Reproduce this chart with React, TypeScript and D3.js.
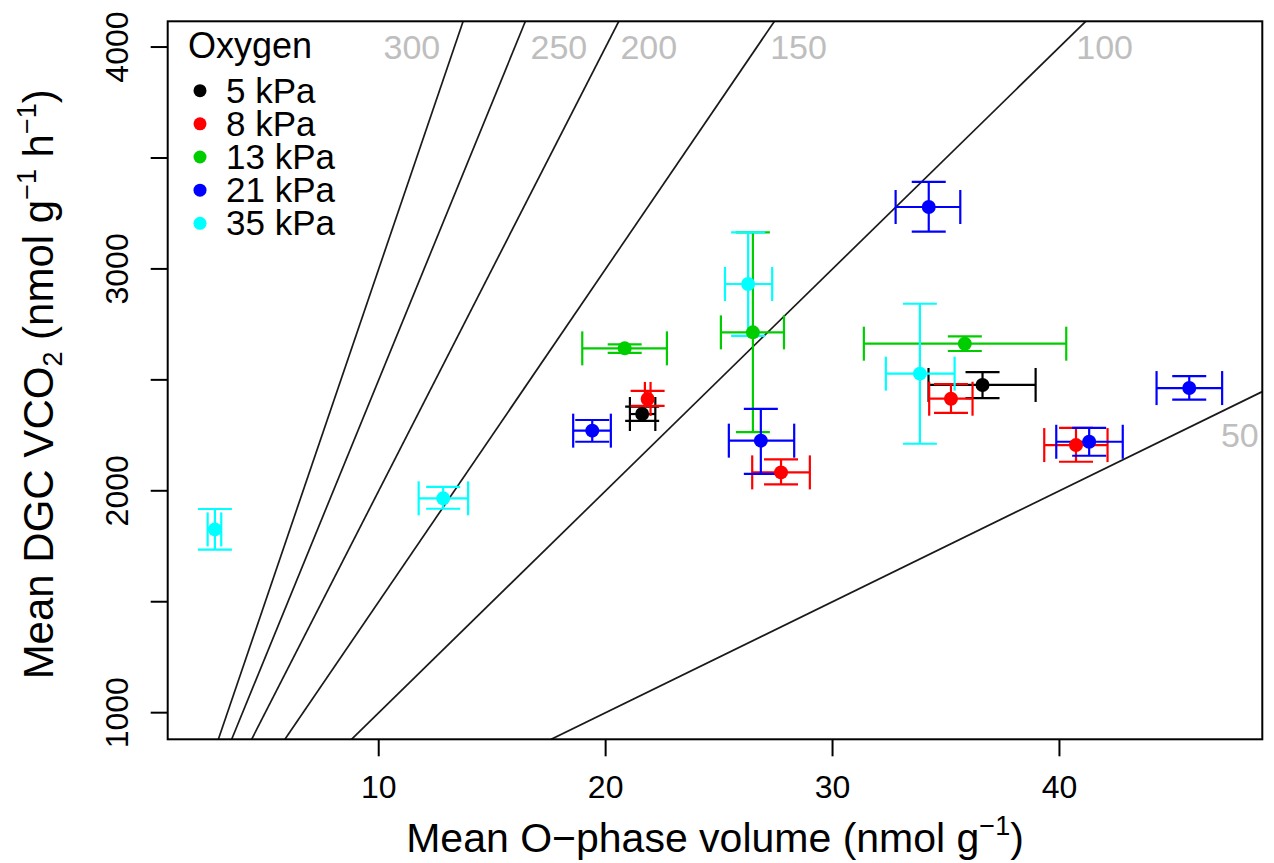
import React from "react";
import * as d3 from "d3";

// ---- data ----
type Pt = { x: number; y: number; xlo: number; xhi: number; ylo: number; yhi: number };

const oxygenLevels = ["5 kPa", "8 kPa", "13 kPa", "21 kPa", "35 kPa"];
const oxygenColors = ["#000000", "#FF0000", "#00CD00", "#0000FF", "#00FFFF"];

const kPa5: Pt[] = [
  { x: 21.61, y: 2346, xlo: 21.07, xhi: 22.19, ylo: 2315, yhi: 2379 },
  { x: 36.61, y: 2477, xlo: 34.23, xhi: 38.95, ylo: 2418, yhi: 2535 },
];
const kPa8: Pt[] = [
  { x: 21.85, y: 2414, xlo: 21.73, xhi: 21.98, ylo: 2383, yhi: 2450 },
  { x: 27.73, y: 2083, xlo: 26.46, xhi: 29.0, ylo: 2029, yhi: 2142 },
  { x: 35.22, y: 2415, xlo: 34.26, xhi: 36.17, ylo: 2351, yhi: 2481 },
  { x: 40.73, y: 2206, xlo: 39.33, xhi: 42.12, ylo: 2131, yhi: 2284 },
];
const kPa13: Pt[] = [
  { x: 20.84, y: 2642, xlo: 18.97, xhi: 22.7, ylo: 2622, yhi: 2660 },
  { x: 26.49, y: 2714, xlo: 25.08, xhi: 27.86, ylo: 2264, yhi: 3165 },
  { x: 35.83, y: 2663, xlo: 31.38, xhi: 40.3, ylo: 2630, yhi: 2696 },
];
const kPa21: Pt[] = [
  { x: 19.41, y: 2271, xlo: 18.57, xhi: 20.23, ylo: 2221, yhi: 2319 },
  { x: 26.84, y: 2226, xlo: 25.43, xhi: 28.31, ylo: 2076, yhi: 2369 },
  { x: 34.24, y: 3279, xlo: 32.78, xhi: 35.63, ylo: 3168, yhi: 3392 },
  { x: 41.31, y: 2221, xlo: 39.86, xhi: 42.79, ylo: 2158, yhi: 2284 },
  { x: 45.72, y: 2463, xlo: 44.28, xhi: 47.17, ylo: 2411, yhi: 2517 },
];
const kPa35: Pt[] = [
  { x: 2.78, y: 1826, xlo: 2.46, xhi: 3.06, ylo: 1735, yhi: 1918 },
  { x: 12.84, y: 1966, xlo: 11.76, xhi: 13.94, ylo: 1919, yhi: 2018 },
  { x: 26.28, y: 2932, xlo: 25.26, xhi: 27.34, ylo: 2698, yhi: 3165 },
  { x: 33.85, y: 2528, xlo: 32.35, xhi: 35.38, ylo: 2212, yhi: 2843 },
];
const seriesData = [kPa5, kPa8, kPa13, kPa21, kPa35];

const xTicks = [10, 20, 30, 40];
const yTicks = [1000, 1500, 2000, 2500, 3000, 3500, 4000];
const yTickLabels = ["1000", "", "2000", "", "3000", "", "4000"];

// iso-rate lines VCO2 = rate * volume
const rates = [300, 250, 200, 150, 100, 50];
const rateLabelX = [11.46, 17.94, 21.9, 28.5, 41.99, 47.95];
const rateLabelY = [4000, 4000, 4000, 4000, 4000, 2251];

const FONT = "'Liberation Sans', Arial, Helvetica, sans-serif";

export default function App() {
  const W = 1274, H = 863;
  const L = 167.7, R = 1262.3, T = 21.3, B = 739.3;
  const x = d3.scaleLinear().domain([0.7, 48.94]).range([L, R]);
  const y = d3.scaleLinear().domain([880, 4116]).range([B, T]);
  const [, xmax] = x.domain();
  const [ymin, ymax] = y.domain();
  const cap = 17;
  const line = d3.line<[number, number]>().x((d) => x(d[0])).y((d) => y(d[1]));

  return (
    <svg width={W} height={H} style={{ position: "absolute", left: 0, top: 0, background: "#fff" }} fontFamily={FONT}>
      <defs>
        <clipPath id="plotclip">
          <rect x={L} y={T} width={R - L} height={B - T} />
        </clipPath>
      </defs>
      <rect x={0} y={0} width={W} height={H} fill="#fff" />

      {/* rate lines */}
      <g clipPath="url(#plotclip)">
        {rates.map((k) => {
          const x0 = ymin / k;
          const x1 = Math.min(ymax / k, xmax);
          return (
            <path
              key={k}
              d={line([[x0, k * x0], [x1, k * x1]]) || ""}
              stroke="#1a1a1a"
              strokeWidth={1.7}
              fill="none"
            />
          );
        })}
      </g>
      {rates.map((k, i) => (
        <text
          key={"rl" + k}
          x={x(rateLabelX[i])}
          y={y(rateLabelY[i])}
          dy="0.36em"
          textAnchor="middle"
          fontSize={34}
          fill="#BEBEBE"
        >
          {k}
        </text>
      ))}

      {/* error bars and points */}
      {seriesData.map((pts, si) => (
        <g key={"s" + si} stroke={oxygenColors[si]} strokeWidth={2.2} fill="none">
          {pts.map((p, pi) => (
            <g key={pi}>
              <line x1={x(p.xlo)} x2={x(p.xhi)} y1={y(p.y)} y2={y(p.y)} />
              <line x1={x(p.xlo)} x2={x(p.xlo)} y1={y(p.y) - cap} y2={y(p.y) + cap} />
              <line x1={x(p.xhi)} x2={x(p.xhi)} y1={y(p.y) - cap} y2={y(p.y) + cap} />
              <line x1={x(p.x)} x2={x(p.x)} y1={y(p.ylo)} y2={y(p.yhi)} />
              <line x1={x(p.x) - cap} x2={x(p.x) + cap} y1={y(p.ylo)} y2={y(p.ylo)} />
              <line x1={x(p.x) - cap} x2={x(p.x) + cap} y1={y(p.yhi)} y2={y(p.yhi)} />
            </g>
          ))}
        </g>
      ))}
      {seriesData.map((pts, si) => (
        <g key={"p" + si} fill={oxygenColors[si]}>
          {pts.map((p, pi) => (
            <circle key={pi} cx={x(p.x)} cy={y(p.y)} r={7} />
          ))}
        </g>
      ))}

      {/* box */}
      <rect x={L} y={T} width={R - L} height={B - T} fill="none" stroke="#000" strokeWidth={2} />

      {/* x axis */}
      <g>
        {xTicks.map((t) => (
          <g key={"xt" + t}>
            <line x1={x(t)} x2={x(t)} y1={B} y2={B + 17} stroke="#000" strokeWidth={2} />
            <text x={x(t)} y={798} textAnchor="middle" fontSize={32} fill="#000">
              {t}
            </text>
          </g>
        ))}
        <text x={(L + R) / 2} y={852} textAnchor="middle" fontSize={41} fill="#000">
          Mean O−phase volume (nmol g
          <tspan dy={-17} fontSize={27}>−1</tspan>
          <tspan dy={17}>)</tspan>
        </text>
      </g>

      {/* y axis */}
      <g>
        {yTicks.map((t, i) => (
          <g key={"yt" + t}>
            <line x1={L - 17} x2={L} y1={y(t)} y2={y(t)} stroke="#000" strokeWidth={2} />
            {yTickLabels[i] && (
              <text
                transform={`translate(128,${y(t)}) rotate(-90)`}
                textAnchor="middle"
                fontSize={32}
                fill="#000"
              >
                {yTickLabels[i]}
              </text>
            )}
          </g>
        ))}
        <text
          transform={`translate(53,${(T + B) / 2 + 4}) rotate(-90)`}
          textAnchor="middle"
          fontSize={42}
          fill="#000"
        >
          Mean DGC VCO
          <tspan dy={9} fontSize={27}>2</tspan>
          <tspan dy={-9}> (nmol g</tspan>
          <tspan dy={-17} fontSize={27}>−1</tspan>
          <tspan dy={17}> h</tspan>
          <tspan dy={-17} fontSize={27}>−1</tspan>
          <tspan dy={17}>)</tspan>
        </text>
      </g>

      {/* legend */}
      <g>
        <text x={188} y={58} fontSize={36} fill="#000">
          Oxygen
        </text>
        {oxygenLevels.map((lab, i) => (
          <g key={lab}>
            <circle cx={200} cy={90.7 + i * 33.15} r={6.5} fill={oxygenColors[i]} />
            <text x={226} y={90.7 + i * 33.15 + 12} fontSize={35} fill="#000">
              {lab}
            </text>
          </g>
        ))}
      </g>
    </svg>
  );
}
